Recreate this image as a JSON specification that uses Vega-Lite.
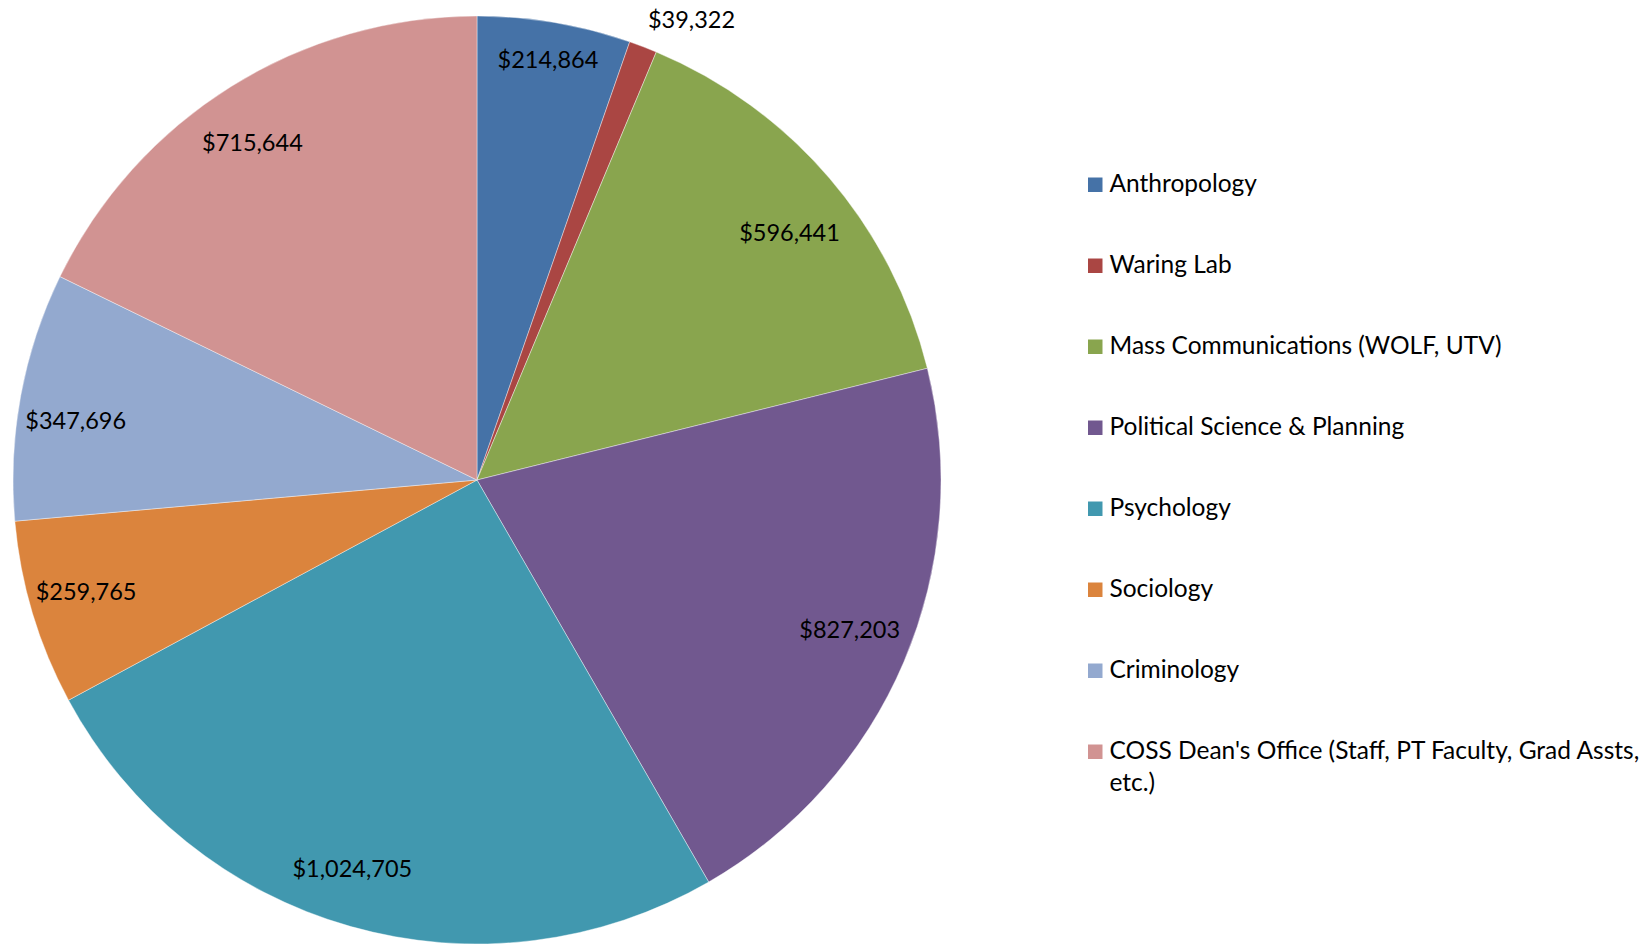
{
  "$schema": "https://vega.github.io/schema/vega-lite/v6.json",
  "width": 954,
  "height": 960,
  "padding": 0,
  "background": "white",
  "config": {"view": {"stroke": null}, "font": "Lato", "style": {"guide-label": {"lineHeight": 32}}},
  "data": {
    "values": [
      {"dept": "Anthropology", "amount": 214864, "order": 1},
      {"dept": "Waring Lab", "amount": 39322, "order": 2},
      {"dept": "Mass Communications (WOLF, UTV)", "amount": 596441, "order": 3},
      {"dept": "Political Science & Planning", "amount": 827203, "order": 4},
      {"dept": "Psychology", "amount": 1024705, "order": 5},
      {"dept": "Sociology", "amount": 259765, "order": 6},
      {"dept": "Criminology", "amount": 347696, "order": 7},
      {"dept": "COSS Dean's Office (Staff, PT Faculty, Grad Assts, etc.)", "amount": 715644, "order": 8}
    ]
  },
  "encoding": {
    "theta": {"field": "amount", "type": "quantitative", "stack": true},
    "order": {"field": "order", "type": "quantitative"}
  },
  "layer": [
    {
      "mark": {"type": "arc", "outerRadius": 464, "stroke": "white", "strokeWidth": 0.4},
      "encoding": {
        "color": {
          "field": "dept",
          "type": "nominal",
          "sort": null,
          "scale": {
            "domain": ["Anthropology", "Waring Lab", "Mass Communications (WOLF, UTV)", "Political Science & Planning", "Psychology", "Sociology", "Criminology", "COSS Dean's Office (Staff, PT Faculty, Grad Assts, etc.)"],
            "range": ["#4572A7", "#AA4643", "#89A54E", "#71588F", "#4198AF", "#DB843D", "#93A9CF", "#D19392"]
          },
          "legend": {
            "title": null,
            "orient": "none",
            "legendX": 1083,
            "legendY": 172.5,
            "padding": 0,
            "symbolType": "square",
            "symbolSize": 210,
            "symbolStrokeWidth": 0,
            "labelFont": "Lato",
            "labelFontSize": 24.5,
            "labelColor": "black",
            "labelOffset": 2,
            "labelLimit": 700,
            "rowPadding": 56,
            "labelExpr": "datum.label == \"COSS Dean's Office (Staff, PT Faculty, Grad Assts, etc.)\" ? [\"COSS Dean's Office (Staff, PT Faculty, Grad Assts,\", \"etc.)\"] : datum.label"
          }
        }
      }
    },
    {
      "mark": {
        "type": "text",
        "radius": {"expr": "datum.dept === 'Waring Lab' ? 507 : datum.dept === 'Anthropology' ? 425 : 405"},
        "dx": {"expr": "datum.dept === 'Waring Lab' ? 33 : datum.dept === 'Mass Communications (WOLF, UTV)' ? 5 : datum.dept === 'Psychology' ? -14 : datum.dept === 'Sociology' ? -3 : datum.dept === 'Criminology' ? -3 : datum.order === 8 ? -10 : 0"},
        "dy": {"expr": "datum.dept === 'Waring Lab' ? 14 : datum.dept === 'Mass Communications (WOLF, UTV)' ? 18 : datum.dept === 'Political Science & Planning' ? -8 : datum.dept === 'Sociology' ? -3 : datum.dept === 'Criminology' ? 15 : datum.order === 8 ? 7 : 0"},
        "fontSize": 23.5,
        "font": "Lato",
        "color": "black"
      },
      "encoding": {
        "text": {"field": "amount", "type": "quantitative", "format": "$,.0f"}
      }
    }
  ]
}
